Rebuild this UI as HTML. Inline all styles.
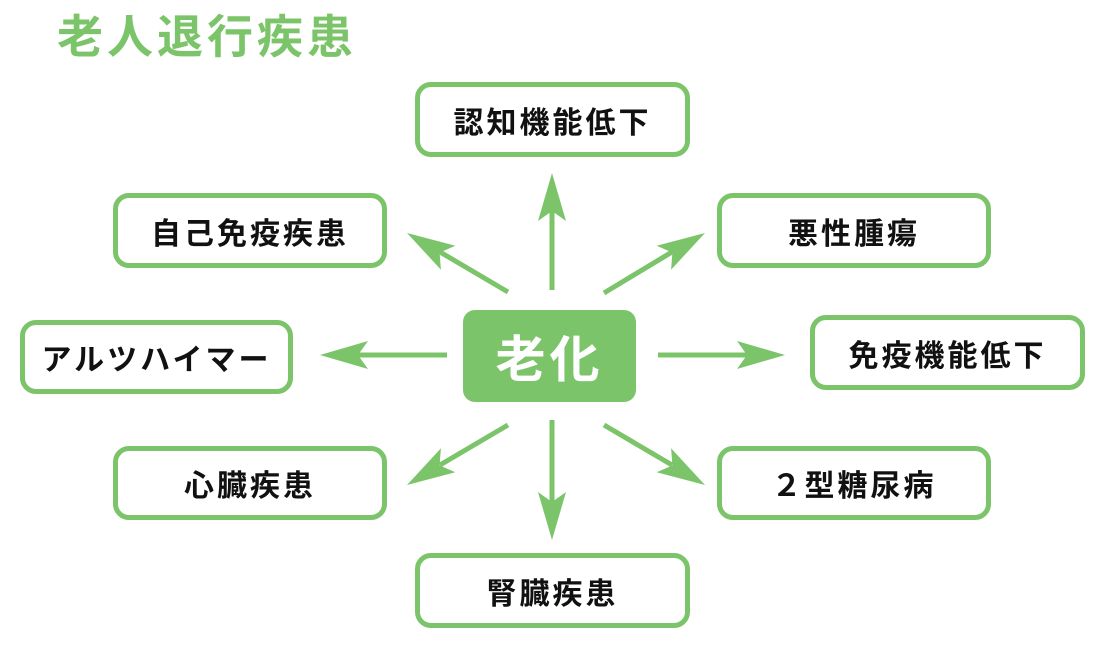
<!DOCTYPE html>
<html><head><meta charset="utf-8"><style>
body{margin:0;width:1120px;height:664px;background:#fff;position:relative;overflow:hidden;font-family:"Liberation Sans","Noto Sans CJK JP",sans-serif}
.t{position:absolute;left:57px;top:8px;font-size:46px;font-weight:bold;color:#7cc46a;letter-spacing:4px;line-height:58px}
.b{position:absolute;box-sizing:border-box;border:5px solid #7cc46a;border-radius:16px;background:#fff;display:flex;align-items:center;justify-content:center;font-size:30px;font-weight:bold;color:#111;letter-spacing:3px}
.c{position:absolute;left:463px;top:310px;width:173px;height:92px;background:#7cc46a;border-radius:12px;color:#fff;font-size:50px;font-weight:bold;display:flex;align-items:center;justify-content:center;letter-spacing:4px}
svg{position:absolute;left:0;top:0}
</style></head><body>
<div class="t">老人退行疾患</div>
<svg width="1120" height="664">
<g stroke="#7cc46a" stroke-width="5" fill="none">
<line x1="552" y1="290" x2="552" y2="210"/>
<line x1="508" y1="292" x2="440" y2="252"/>
<line x1="604" y1="293" x2="672" y2="252"/>
<line x1="447" y1="355" x2="355" y2="355"/>
<line x1="658" y1="355" x2="750" y2="355"/>
<line x1="508" y1="425" x2="440" y2="465"/>
<line x1="604" y1="425" x2="672" y2="465"/>
<line x1="552" y1="420" x2="552" y2="505"/>
</g>
<g fill="#7cc46a">
<polygon points="0,0 -48,-14 -38,0 -48,14" transform="translate(552,173) rotate(-90)"/>
<polygon points="0,0 -48,-14 -38,0 -48,14" transform="translate(407,233) rotate(-149)"/>
<polygon points="0,0 -48,-14 -38,0 -48,14" transform="translate(705,233) rotate(-31)"/>
<polygon points="0,0 -48,-14 -38,0 -48,14" transform="translate(320,355) rotate(180)"/>
<polygon points="0,0 -48,-14 -38,0 -48,14" transform="translate(785,355)"/>
<polygon points="0,0 -48,-14 -38,0 -48,14" transform="translate(407,485) rotate(149)"/>
<polygon points="0,0 -48,-14 -38,0 -48,14" transform="translate(705,485) rotate(31)"/>
<polygon points="0,0 -48,-14 -38,0 -48,14" transform="translate(552,540) rotate(90)"/>
</g>
</svg>
<div class="b" style="left:415px;top:82px;width:275px;height:75px">認知機能低下</div>
<div class="b" style="left:113px;top:193px;width:274px;height:75px">自己免疫疾患</div>
<div class="b" style="left:717px;top:193px;width:274px;height:75px">悪性腫瘍</div>
<div class="b" style="left:20px;top:320px;width:273px;height:74px">アルツハイマー</div>
<div class="b" style="left:810px;top:315px;width:275px;height:75px">免疫機能低下</div>
<div class="b" style="left:113px;top:446px;width:274px;height:74px">心臓疾患</div>
<div class="b" style="left:717px;top:446px;width:274px;height:74px">２型糖尿病</div>
<div class="b" style="left:415px;top:553px;width:275px;height:75px">腎臓疾患</div>
<div class="c">老化</div>
</body></html>
